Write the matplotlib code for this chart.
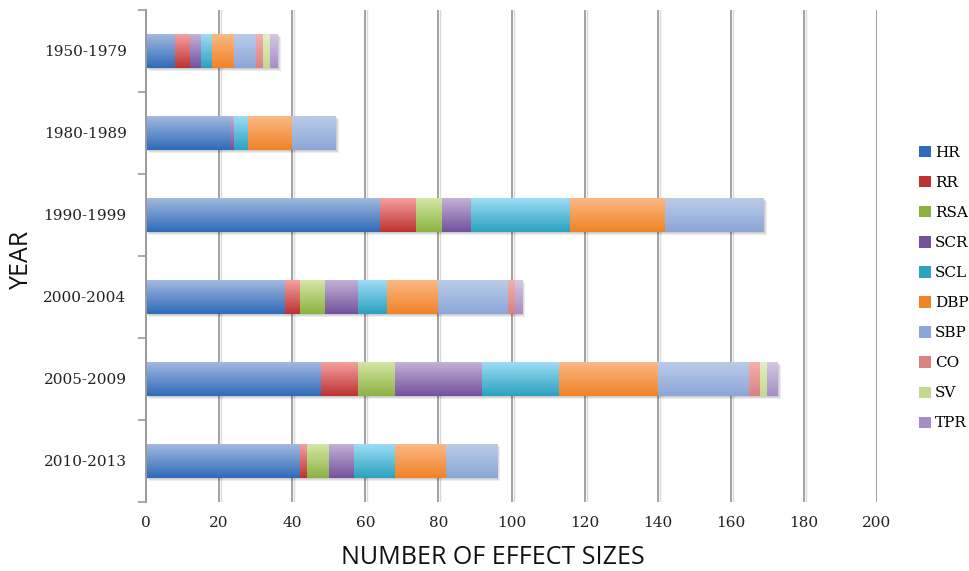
import numpy as np
import matplotlib.pyplot as plt
from matplotlib.patches import Patch
from matplotlib import transforms
from matplotlib.colors import to_rgb

periods = ["1950-1979", "1980-1989", "1990-1999", "2000-2004", "2005-2009", "2010-2013"]

# number of effect sizes per outcome and period
HR = [8, 23, 64, 38, 48, 42]
RR = [4, 0, 10, 4, 10, 2]
RSA = [0, 0, 7, 7, 10, 6]
SCR = [3, 1, 8, 9, 24, 7]
SCL = [3, 4, 27, 8, 21, 11]
DBP = [6, 12, 26, 14, 27, 14]
SBP = [6, 12, 27, 19, 25, 14]
CO = [2, 0, 0, 2, 3, 0]
SV = [2, 0, 0, 0, 2, 0]
TPR = [2, 0, 0, 2, 3, 0]

series = ["HR", "RR", "RSA", "SCR", "SCL", "DBP", "SBP", "CO", "SV", "TPR"]
values = [HR, RR, RSA, SCR, SCL, DBP, SBP, CO, SV, TPR]

# (top, bottom) colours for the vertical fill gradient
shades = {
    "HR": ("#a6bbe0", "#2e6bb9"),
    "RR": ("#f6a3a3", "#bf3232"),
    "RSA": ("#d6e8a8", "#8cb342"),
    "SCR": ("#c5b4d8", "#74519e"),
    "SCL": ("#a0def7", "#2aa2c0"),
    "DBP": ("#fbb988", "#f08326"),
    "SBP": ("#bccde9", "#8ba6d7"),
    "CO": ("#f6b0b0", "#d98282"),
    "SV": ("#e5f0c3", "#c3da8c"),
    "TPR": ("#d6c9e6", "#a78dc7"),
}

serif = "DejaVu Serif"

fig = plt.figure(figsize=(9.69, 5.71), dpi=100)
ax = fig.add_axes([146 / 969, 1 - 502 / 571, (877 - 146) / 969, (502 - 10) / 571])

y = np.arange(len(periods))[::-1].astype(float)
h = 0.42

ax.set_xlim(0, 200)
ax.set_ylim(-0.5, len(periods) - 0.5)

offset = transforms.ScaledTranslation(2 / 100, 0, fig.dpi_scale_trans)
for gx in range(20, 201, 20):
    ax.axvline(gx, color="#9a9a9a", lw=1.3, zorder=1)
    shade_line = ax.axvline(gx, color="#dadada", lw=1.0, zorder=0.9)
    shade_line.set_transform(shade_line.get_transform() + offset)

left = np.zeros(len(periods))
totals = np.sum(values, axis=0)

# soft drop shadow behind each stacked bar
for k in range(3):
    shadow = ax.barh(y, totals, height=h, color="#000000", alpha=0.07, zorder=1.5, linewidth=0)
    d = transforms.ScaledTranslation((1 + k) / 100, -(1 + k) / 100, fig.dpi_scale_trans)
    for p in shadow:
        p.set_transform(ax.transData + d)

grad = np.linspace(0, 1, 64)[:, None, None]
for name, vals in zip(series, values):
    top, bot = shades[name]
    bars = ax.barh(y, vals, left=left, height=h, color=bot, linewidth=0, zorder=2)
    img = (1 - grad) * np.array(to_rgb(top)) + grad * np.array(to_rgb(bot))
    for p, yy, v, l in zip(bars, y, vals, left):
        if v <= 0:
            continue
        im = ax.imshow(img, extent=(l, l + v, yy - h / 2, yy + h / 2), origin="upper",
                       aspect="auto", zorder=2.1, interpolation="bilinear")
        im.set_clip_path(p)
    left = left + np.array(vals)

ax.set_xlim(0, 200)
ax.set_ylim(-0.5, len(periods) - 0.5)

ax.set_xticks(range(0, 201, 20))
ax.set_xticklabels([str(v) for v in range(0, 201, 20)], fontfamily=serif, fontsize=11, color="#222222")
ax.set_yticks(y)
ax.set_yticklabels(periods, fontfamily=serif, fontsize=11, color="#222222")
ax.set_yticks(np.arange(-0.5, len(periods), 1.0), minor=True)
ax.tick_params(axis="y", which="major", length=0, pad=14)
ax.tick_params(axis="y", which="minor", length=6, width=1.2, color="#999999", direction="out")
ax.tick_params(axis="x", length=0, pad=10)

for s in ["top", "right", "bottom"]:
    ax.spines[s].set_visible(False)
ax.spines["left"].set_color("#9a9a9a")
ax.spines["left"].set_linewidth(1.4)

ax.set_xlabel("NUMBER OF EFFECT SIZES", fontfamily="Open Sans", fontsize=18,
              color="#111111", va="center")
ax.xaxis.set_label_coords(0.475, -0.113)
ax.set_ylabel("YEAR", fontfamily="Open Sans", fontsize=18, color="#111111", va="center")
ax.yaxis.set_label_coords(-0.170, 0.492)

handles = [Patch(facecolor=shades[n][1], edgecolor="none") for n in series]
fig.legend(handles, series, loc="upper left", bbox_to_anchor=(913 / 969, 1 - 140 / 571),
           frameon=False, prop={"family": serif, "size": 11}, handlelength=0.75,
           handleheight=0.75, handletextpad=0.3, labelspacing=1.05, borderaxespad=0)

fig.savefig("out.png", dpi=100)
